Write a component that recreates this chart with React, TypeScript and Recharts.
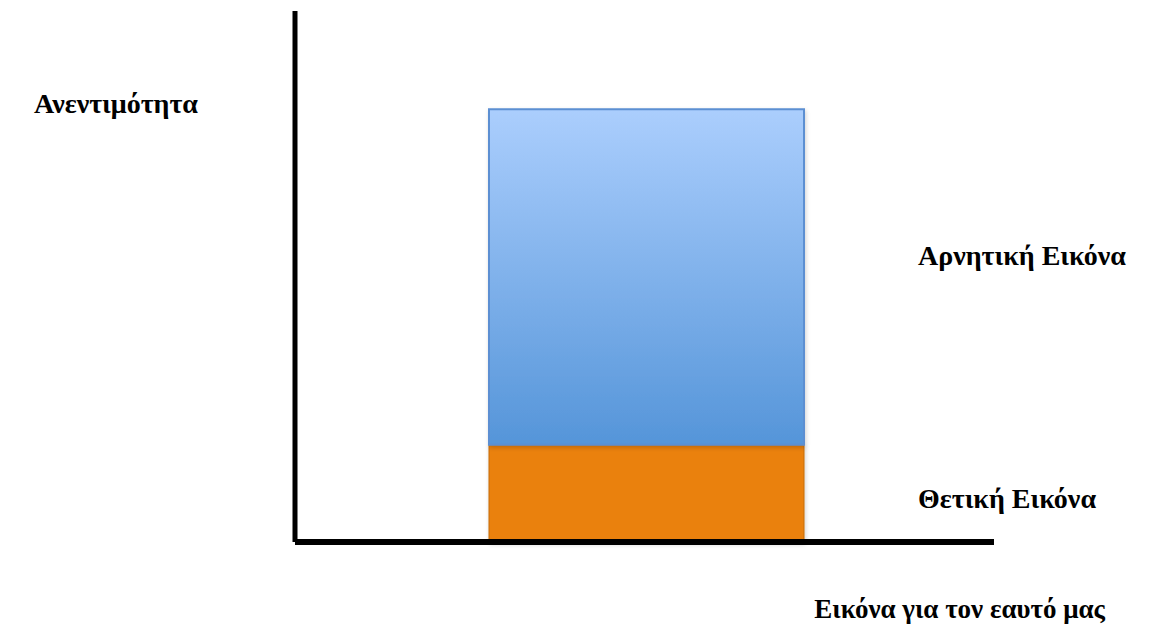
import { BarChart, Bar, XAxis, YAxis, Label, LabelList } from "recharts";

// Self-image split: positive part at the bottom, negative part stacked above it
const categories = ["Εικόνα για τον εαυτό μας"];
const positiveValues = [18.3];
const negativeValues = [63.2];

const yAxisTitle = "Ανεντιμότητα";
const xAxisTitle = "Εικόνα για τον εαυτό μας";
const positiveLabel = "Θετική Εικόνα";
const negativeLabel = "Αρνητική Εικόνα";

const data = categories.map((name, i) => ({
  name,
  positive: positiveValues[i],
  negative: negativeValues[i],
}));

const FONT = "'Liberation Serif', 'Times New Roman', serif";
const FONT_SIZE = 28;

// Text placed to the right of a bar segment
const sideLabel = (text: string, dy: number) => (props: any) => {
  const { x, y, width, height } = props.viewBox ?? props;
  return (
    <text
      x={x + width + 114}
      y={y + height / 2 + dy}
      fontFamily={FONT}
      fontWeight="bold"
      fontSize={FONT_SIZE}
      fill="#000"
      dominantBaseline="central"
    >
      {text}
    </text>
  );
};

export default function App() {
  return (
    <div style={{ position: "absolute", left: 0, top: 0, background: "#fff" }}>
      <BarChart
        width={1160}
        height={631}
        data={data}
        margin={{ top: 11, right: 166, bottom: 88, left: 294 }}
      >
        <defs>
          <linearGradient id="negFill" x1="0" y1="0" x2="0" y2="1">
            <stop offset="0%" stopColor="#abcefd" />
            <stop offset="100%" stopColor="#5595d9" />
          </linearGradient>
          <filter id="soft" x="-10%" y="-10%" width="120%" height="120%">
            <feDropShadow dx="1" dy="2" stdDeviation="2" floodColor="#000" floodOpacity="0.18" />
          </filter>
        </defs>
        <XAxis
          dataKey="name"
          height={1}
          padding={{ left: 4, right: 0 }}
          tick={false}
          tickLine={false}
          axisLine={{ stroke: "#000", strokeWidth: 6 }}
        >
          <Label
            content={(props: any) => {
              const { x, y, width } = props.viewBox;
              return (
                <text
                  x={x + width + 111}
                  y={y + 76}
                  textAnchor="end"
                  fontFamily={FONT}
                  fontWeight="bold"
                  fontSize={27}
                  fill="#000"
                >
                  {xAxisTitle}
                </text>
              );
            }}
          />
        </XAxis>
        <YAxis
          width={1}
          domain={[0, 100]}
          tick={false}
          tickLine={false}
          axisLine={{ stroke: "#000", strokeWidth: 5 }}
        >
          <Label
            content={(props: any) => {
              const { x, y, width } = props.viewBox;
              return (
                <text
                  x={x + width - 97}
                  y={y + 102}
                  textAnchor="end"
                  fontFamily={FONT}
                  fontWeight="bold"
                  fontSize={FONT_SIZE}
                  fill="#000"
                >
                  {yAxisTitle}
                </text>
              );
            }}
          />
        </YAxis>
        <Bar
          dataKey="positive"
          stackId="img"
          barSize={315}
          fill="#ea8107"
          stroke="#c56c08"
          strokeWidth={1}
          filter="url(#soft)"
          isAnimationActive={false}
        >
          <LabelList content={sideLabel(positiveLabel, 5)} />
        </Bar>
        <Bar
          dataKey="negative"
          stackId="img"
          barSize={315}
          fill="url(#negFill)"
          stroke="#5b8fd2"
          strokeWidth={2}
          filter="url(#soft)"
          isAnimationActive={false}
        >
          <LabelList content={sideLabel(negativeLabel, -22)} />
        </Bar>
      </BarChart>
    </div>
  );
}
